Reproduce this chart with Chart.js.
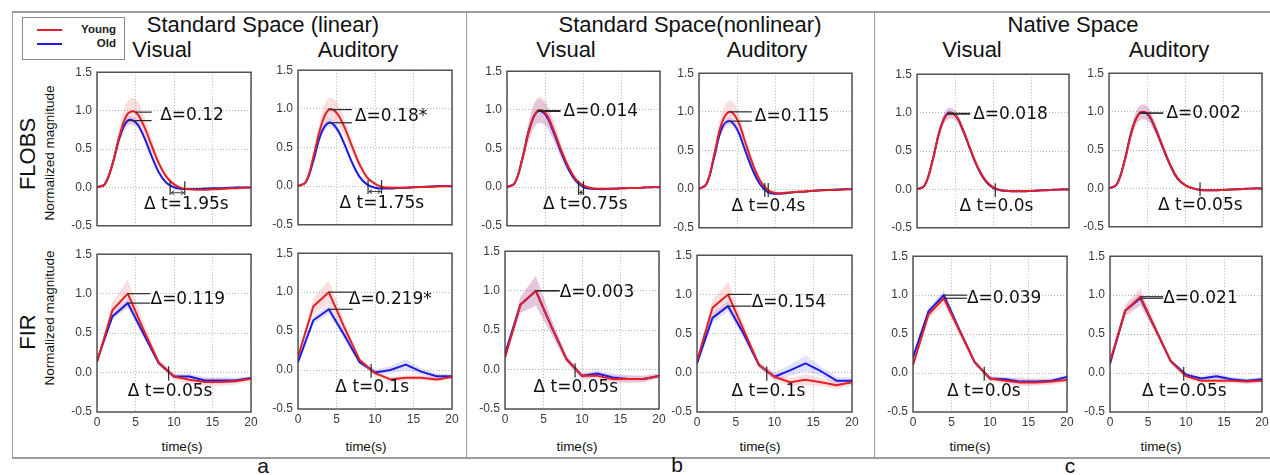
<!DOCTYPE html>
<html><head><meta charset="utf-8">
<script src="https://cdn.jsdelivr.net/npm/chart.js@4"></script>
<style>
html,body{margin:0;padding:0;background:#fff;}
body{width:1270px;height:475px;position:relative;overflow:hidden;font-family:"Liberation Sans",Arial,sans-serif;color:#111;}
canvas{position:absolute;}
.t{position:absolute;white-space:nowrap;line-height:1;transform:translate(-50%,-50%);}
.r{position:absolute;white-space:nowrap;line-height:1;transform:translate(-50%,-50%) rotate(-90deg);}
.l{position:absolute;white-space:nowrap;line-height:1;transform:translate(0,-50%);font-family:"DejaVu Sans",sans-serif;font-size:17px;color:#111;}
</style></head><body>
<script>
// ---------------- DATA ----------------
const T_FLOBS = [0,1,2,3,4,5,6,7,8,9,10,11,12,13,14,15,16,17,18,19,20];
const T_FIR = [0,2,4,6,8,10,12,14,16,18,20];
const X_TICKS = [0,5,10,15,20];
const Y_TICKS = [-0.5,0,0.5,1.0,1.5];

// Standard space (linear) - FLOBS
const linVisFlobsY   = [0,0.04,0.30,0.70,0.96,0.98,0.82,0.57,0.32,0.14,0.04,-0.01,-0.025,-0.03,-0.03,-0.025,-0.02,-0.015,-0.01,-0.005,0];
const linVisFlobsYSd = [0,0.01,0.06,0.13,0.17,0.17,0.14,0.10,0.06,0.04,0.03,0.02,0.01,0.01,0.01,0.01,0.01,0.01,0.01,0.01,0.01];
const linVisFlobsO   = [0,0.04,0.30,0.67,0.87,0.85,0.68,0.43,0.20,0.06,0.00,-0.02,-0.02,-0.02,-0.015,-0.01,-0.01,-0.005,0,0,0];
const linVisFlobsOSd = [0,0.01,0.02,0.04,0.05,0.05,0.04,0.03,0.02,0.01,0.01,0.01,0.01,0.01,0.01,0.01,0.01,0.01,0.01,0.01,0.01];
const linAudFlobsY   = [0,0.05,0.38,0.78,0.99,0.95,0.77,0.52,0.28,0.11,0.03,-0.01,-0.02,-0.02,-0.02,-0.015,-0.01,-0.01,-0.005,0,0];
const linAudFlobsYSd = [0,0.01,0.06,0.12,0.15,0.14,0.11,0.08,0.05,0.03,0.02,0.01,0.01,0.01,0.01,0.01,0.01,0.01,0.01,0.01,0.01];
const linAudFlobsO   = [0,0.05,0.33,0.68,0.82,0.75,0.55,0.31,0.12,0.02,-0.02,-0.03,-0.03,-0.025,-0.02,-0.015,-0.01,-0.005,0,0,0];
const linAudFlobsOSd = [0,0.01,0.02,0.04,0.05,0.05,0.04,0.03,0.02,0.01,0.01,0.01,0.01,0.01,0.01,0.01,0.01,0.01,0.01,0.01,0.01];
// Standard space (nonlinear) - FLOBS
const nonVisFlobsY   = [0,0.05,0.36,0.77,0.99,0.96,0.76,0.50,0.27,0.10,0.02,-0.01,-0.02,-0.02,-0.02,-0.015,-0.01,-0.01,-0.005,0,0];
const nonVisFlobsYSd = [0,0.01,0.07,0.14,0.17,0.16,0.13,0.09,0.05,0.03,0.02,0.01,0.01,0.01,0.01,0.01,0.01,0.01,0.01,0.01,0.01];
const nonVisFlobsO   = [0,0.05,0.37,0.78,0.98,0.94,0.73,0.47,0.24,0.08,0.00,-0.02,-0.025,-0.025,-0.02,-0.015,-0.01,-0.01,-0.005,0,0];
const nonVisFlobsOSd = [0,0.01,0.06,0.12,0.15,0.14,0.11,0.08,0.05,0.03,0.02,0.01,0.01,0.01,0.01,0.01,0.01,0.01,0.01,0.01,0.01];
const nonAudFlobsY   = [0,0.07,0.45,0.86,1.00,0.90,0.62,0.33,0.11,-0.01,-0.05,-0.05,-0.04,-0.035,-0.03,-0.02,-0.015,-0.01,-0.01,-0.005,0];
const nonAudFlobsYSd = [0,0.02,0.08,0.13,0.15,0.13,0.09,0.06,0.04,0.03,0.02,0.01,0.01,0.01,0.01,0.01,0.01,0.01,0.01,0.01,0.01];
const nonAudFlobsO   = [0,0.07,0.42,0.79,0.88,0.77,0.51,0.25,0.06,-0.04,-0.06,-0.055,-0.045,-0.035,-0.03,-0.02,-0.015,-0.01,-0.005,0,0];
const nonAudFlobsOSd = [0,0.01,0.03,0.04,0.05,0.05,0.04,0.03,0.02,0.02,0.02,0.01,0.01,0.01,0.01,0.01,0.01,0.01,0.01,0.01,0.01];
// Native space - FLOBS
const natVisFlobsY   = [0,0.05,0.35,0.76,0.98,0.97,0.79,0.53,0.29,0.12,0.03,-0.01,-0.02,-0.025,-0.025,-0.02,-0.015,-0.01,-0.005,0,0];
const natVisFlobsYSd = [0,0.005,0.03,0.06,0.07,0.07,0.05,0.04,0.03,0.02,0.01,0.01,0.01,0.01,0.01,0.01,0.01,0.01,0.01,0.01,0.01];
const natVisFlobsO   = [0,0.05,0.36,0.77,0.99,0.97,0.78,0.52,0.28,0.11,0.02,-0.01,-0.02,-0.025,-0.025,-0.02,-0.015,-0.01,-0.005,0,0];
const natVisFlobsOSd = [0,0.005,0.03,0.05,0.07,0.06,0.05,0.04,0.03,0.02,0.01,0.01,0.01,0.01,0.01,0.01,0.01,0.01,0.01,0.01,0.01];
const natAudFlobsY   = [0,0.05,0.34,0.75,0.98,0.98,0.80,0.55,0.31,0.13,0.04,0,-0.02,-0.025,-0.025,-0.02,-0.015,-0.01,-0.005,0,0];
const natAudFlobsYSd = [0,0.01,0.04,0.08,0.10,0.10,0.07,0.05,0.03,0.02,0.01,0.01,0.01,0.01,0.01,0.01,0.01,0.01,0.01,0.01,0.01];
const natAudFlobsO   = [0,0.05,0.35,0.76,0.98,0.97,0.79,0.54,0.30,0.12,0.04,0,-0.02,-0.025,-0.025,-0.02,-0.015,-0.01,-0.005,0,0];
const natAudFlobsOSd = [0,0.01,0.04,0.07,0.09,0.09,0.07,0.05,0.03,0.02,0.01,0.01,0.01,0.01,0.01,0.01,0.01,0.01,0.01,0.01,0.01];

// FIR
const linVisFirY   = [0.13,0.79,1.00,0.55,0.13,-0.05,-0.09,-0.12,-0.12,-0.11,-0.08];
const linVisFirYSd = [0.03,0.10,0.18,0.10,0.04,0.04,0.05,0.05,0.05,0.04,0.03];
const linVisFirO   = [0.15,0.71,0.88,0.50,0.12,-0.05,-0.05,-0.10,-0.10,-0.10,-0.07];
const linVisFirOSd = [0.02,0.04,0.05,0.04,0.02,0.03,0.04,0.04,0.04,0.03,0.02];
const linAudFirY   = [0.17,0.82,1.00,0.55,0.13,-0.04,-0.12,-0.10,-0.10,-0.12,-0.09];
const linAudFirYSd = [0.03,0.10,0.15,0.08,0.03,0.03,0.03,0.03,0.03,0.03,0.02];
const linAudFirO   = [0.10,0.64,0.78,0.45,0.10,-0.03,0.00,0.07,-0.02,-0.08,-0.08];
const linAudFirOSd = [0.03,0.05,0.06,0.05,0.03,0.04,0.05,0.07,0.04,0.04,0.03];
const nonVisFirY   = [0.15,0.82,1.00,0.55,0.13,-0.08,-0.08,-0.12,-0.12,-0.12,-0.08];
const nonVisFirYSd = [0.03,0.10,0.20,0.10,0.04,0.04,0.05,0.05,0.05,0.04,0.03];
const nonVisFirO   = [0.20,0.82,0.997,0.55,0.13,-0.08,-0.05,-0.10,-0.12,-0.12,-0.08];
const nonVisFirOSd = [0.03,0.10,0.18,0.10,0.04,0.04,0.04,0.05,0.04,0.04,0.03];
const nonAudFirY   = [0.15,0.83,1.00,0.55,0.10,-0.05,-0.12,-0.09,-0.12,-0.16,-0.12];
const nonAudFirYSd = [0.03,0.10,0.16,0.08,0.04,0.04,0.05,0.07,0.05,0.05,0.04];
const nonAudFirO   = [0.12,0.70,0.85,0.50,0.10,-0.05,0.03,0.12,0.02,-0.10,-0.10];
const nonAudFirOSd = [0.03,0.06,0.07,0.06,0.04,0.05,0.07,0.10,0.06,0.05,0.04];
const natVisFirY   = [0.10,0.75,0.96,0.55,0.14,-0.07,-0.10,-0.12,-0.12,-0.11,-0.09];
const natVisFirYSd = [0.03,0.06,0.08,0.05,0.03,0.03,0.04,0.05,0.04,0.04,0.03];
const natVisFirO   = [0.20,0.79,1.00,0.56,0.14,-0.07,-0.08,-0.11,-0.11,-0.10,-0.05];
const natVisFirOSd = [0.03,0.05,0.06,0.04,0.03,0.03,0.03,0.04,0.04,0.03,0.03];
const natAudFirY   = [0.15,0.80,0.98,0.56,0.15,-0.04,-0.10,-0.10,-0.10,-0.11,-0.10];
const natAudFirYSd = [0.03,0.08,0.12,0.06,0.03,0.03,0.03,0.04,0.03,0.03,0.03];
const natAudFirO   = [0.12,0.80,0.96,0.56,0.15,-0.02,-0.07,-0.04,-0.08,-0.10,-0.08];
const natAudFirOSd = [0.03,0.06,0.08,0.05,0.03,0.03,0.03,0.04,0.03,0.03,0.03];

// annotations (data units)
const annLinVisFlobs = {end:7.1, label:'Δ=0.12',   at:[8.2,0.95], dt:[9.5,11.4], arrow:true, dtLabel:'Δ t=1.95s', dtAt:[6.1,-0.2]};
const annLinAudFlobs = {end:7.0, label:'Δ=0.18*',  at:[7.4,0.92], dt:[9.1,10.85], arrow:true, dtLabel:'Δ t=1.75s', dtAt:[5.4,-0.2]};
const annNonVisFlobs = {end:7.0, label:'Δ=0.014',  at:[7.4,1.0],  dt:[9.35,10.0], arrow:true, dtLabel:'Δ t=0.75s', dtAt:[4.7,-0.2]};
const annNonAudFlobs = {end:6.9, label:'Δ=0.115',  at:[7.3,0.96], dt:[8.6,9.05], arrow:false, dtLabel:'Δ t=0.4s', dtAt:[4.25,-0.21]};
const annNatVisFlobs = {end:7.0, label:'Δ=0.018',  at:[7.4,1.0],  dt:[10.3], arrow:false, dtLabel:'Δ t=0.0s', dtAt:[5.6,-0.2]};
const annNatAudFlobs = {end:7.1, label:'Δ=0.002',  at:[7.5,1.0],  dt:[11.9], arrow:false, dtLabel:'Δ t=0.05s', dtAt:[6.4,-0.2]};
const annLinVisFir   = {end:6.9, label:'Δ=0.119',  at:[6.95,0.95], dt:[9.3], arrow:false, dtLabel:'Δ t=0.05s', dtAt:[4.0,-0.22]};
const annLinAudFir   = {end:7.1, label:'Δ=0.219*', at:[6.6,0.92], dt:[9.5], arrow:false, dtLabel:'Δ t=0.1s', dtAt:[4.85,-0.2]};
const annNonVisFir   = {end:7.1, label:'Δ=0.003',  at:[7.1,1.0],  dt:[9.1], arrow:false, dtLabel:'Δ t=0.05s', dtAt:[3.7,-0.21]};
const annNonAudFir   = {end:7.05,label:'Δ=0.154',  at:[7.05,0.92],dt:[9.0], arrow:false, dtLabel:'Δ t=0.1s', dtAt:[4.45,-0.22]};
const annNatVisFir   = {end:7.0, label:'Δ=0.039',  at:[7.0,0.98], dt:[9.25], arrow:false, dtLabel:'Δ t=0.0s', dtAt:[4.4,-0.22]};
const annNatAudFir   = {end:7.0, label:'Δ=0.021',  at:[7.0,0.98], dt:[9.7], arrow:false, dtLabel:'Δ t=0.05s', dtAt:[4.2,-0.22]};

// ---------------- STYLE / LAYOUT ----------------
const RED = 'rgb(226,32,38)', BLUE = 'rgb(28,28,226)';
const RED_BAND = 'rgba(235,70,70,0.18)', BLUE_BAND = 'rgba(70,70,235,0.16)';

const plots = [
 {rect:[97,70,251,228],  t:T_FLOBS, y:linVisFlobsY, ySd:linVisFlobsYSd, o:linVisFlobsO, oSd:linVisFlobsOSd, smooth:true, xl:false, ann:annLinVisFlobs},
 {rect:[298,68,452,227], t:T_FLOBS, y:linAudFlobsY, ySd:linAudFlobsYSd, o:linAudFlobsO, oSd:linAudFlobsOSd, smooth:true, xl:false, ann:annLinAudFlobs},
 {rect:[507,69,660,228], t:T_FLOBS, y:nonVisFlobsY, ySd:nonVisFlobsYSd, o:nonVisFlobsO, oSd:nonVisFlobsOSd, smooth:true, xl:false, ann:annNonVisFlobs},
 {rect:[699,71,852,230], t:T_FLOBS, y:nonAudFlobsY, ySd:nonAudFlobsYSd, o:nonAudFlobsO, oSd:nonAudFlobsOSd, smooth:true, xl:false, ann:annNonAudFlobs},
 {rect:[917,72,1069,230],t:T_FLOBS, y:natVisFlobsY, ySd:natVisFlobsYSd, o:natVisFlobsO, oSd:natVisFlobsOSd, smooth:true, xl:false, ann:annNatVisFlobs},
 {rect:[1109,71,1262,229],t:T_FLOBS,y:natAudFlobsY, ySd:natAudFlobsYSd, o:natAudFlobsO, oSd:natAudFlobsOSd, smooth:true, xl:false, ann:annNatAudFlobs},
 {rect:[97,252,251,412], t:T_FIR, y:linVisFirY, ySd:linVisFirYSd, o:linVisFirO, oSd:linVisFirOSd, smooth:false, xl:true, ann:annLinVisFir},
 {rect:[298,251,452,409],t:T_FIR, y:linAudFirY, ySd:linAudFirYSd, o:linAudFirO, oSd:linAudFirOSd, smooth:false, xl:true, ann:annLinAudFir},
 {rect:[505,249,659,409],t:T_FIR, y:nonVisFirY, ySd:nonVisFirYSd, o:nonVisFirO, oSd:nonVisFirOSd, smooth:false, xl:true, ann:annNonVisFir},
 {rect:[697,253,852,412],t:T_FIR, y:nonAudFirY, ySd:nonAudFirYSd, o:nonAudFirO, oSd:nonAudFirOSd, smooth:false, xl:true, ann:annNonAudFir},
 {rect:[913,254,1067,412],t:T_FIR,y:natVisFirY, ySd:natVisFirYSd, o:natVisFirO, oSd:natVisFirOSd, smooth:false, xl:true, ann:annNatVisFir},
 {rect:[1110,254,1262,412],t:T_FIR,y:natAudFirY,ySd:natAudFirYSd, o:natAudFirO, oSd:natAudFirOSd, smooth:false, xl:true, ann:annNatAudFir},
];

function div(cls, text, x, y, css){
  const d=document.createElement('div'); d.className=cls; d.textContent=text;
  d.style.left=x+'px'; d.style.top=y+'px';
  if(css) Object.assign(d.style, css);
  document.body.appendChild(d); return d;
}
function box(x,y,w,h,css){
  const d=document.createElement('div'); d.style.position='absolute';
  d.style.left=x+'px'; d.style.top=y+'px'; d.style.width=w+'px'; d.style.height=h+'px';
  Object.assign(d.style, css||{}); document.body.appendChild(d); return d;
}

// panel frames
box(12,11,1258,1.5,{background:'#9c9c9c'});
box(12,457,1258,1.5,{background:'#9c9c9c'});
box(11.5,11,1.5,447,{background:'#9c9c9c'});
box(465.5,11,1.5,447,{background:'#9c9c9c'});
box(873.5,11,1.5,447,{background:'#9c9c9c'});

// legend
box(22,17,101,41,{border:'1px solid #8a8a8a',background:'#fff'});
box(37,29,25,2,{background:RED});
box(37,43,25,2,{background:BLUE});
div('t','Young',0,30,{left:'116px',transform:'translate(-100%,-50%)',fontWeight:'bold',fontSize:'11.5px',color:'#222'});
div('t','Old',0,44,{left:'116px',transform:'translate(-100%,-50%)',fontWeight:'bold',fontSize:'11.5px',color:'#222'});

// titles
const big={fontSize:'22px'};
div('t','Standard Space (linear)',263,25,big);
div('t','Visual',162,50,big); div('t','Auditory',358,50,big);
div('t','Standard Space(nonlinear)',690,25,big);
div('t','Visual',566,50,big); div('t','Auditory',767,50,big);
div('t','Native Space',1073,25,big);
div('t','Visual',972,50,big); div('t','Auditory',1169,50,big);
div('r','FLOBS',28,154,{fontSize:'22px'});
div('r','Normalized magnitude',50,153,{fontSize:'13.5px'});
div('r','FIR',28,332,{fontSize:'22px'});
div('r','Normalized magnitude',50,318,{fontSize:'13.5px'});
[182,366,577,760,970,1161].forEach(x=>div('t','time(s)',x,447,{fontSize:'13.5px'}));
const letter={fontSize:'21px'};
div('t','a',263,465,letter); div('t','b',677,464,letter); div('t','c',1070,465,letter);

function makePlugin(p){
  return {
    id:'frameAnn',
    afterDatasetsDraw(chart){
      const a=p.ann, ctx=chart.ctx;
      const xs=v=>chart.scales.x.getPixelForValue(v), ys=v=>chart.scales.y.getPixelForValue(v);
      ctx.save();
      ctx.strokeStyle='#2a2a2a'; ctx.lineWidth=1.2;
      const line=(x1,y1,x2,y2)=>{ctx.beginPath();ctx.moveTo(x1,y1);ctx.lineTo(x2,y2);ctx.stroke();};
      [p.y,p.o].forEach(v=>{
        const m=Math.max(...v), tm=p.t[v.indexOf(m)];
        line(xs(tm),ys(m),xs(a.end),ys(m));
      });
      a.dt.forEach(t=>line(xs(t),ys(0.08),xs(t),ys(-0.1)));
      if(a.arrow && a.dt.length===2){
        const x1=xs(a.dt[0]), x2=xs(a.dt[1]), y=ys(-0.07);
        ctx.lineWidth=0.9;
        line(x1+1,y,x2-1,y);
        line(x1+1,y,x1+4,y-2); line(x1+1,y,x1+4,y+2);
        line(x2-1,y,x2-4,y-2); line(x2-1,y,x2-4,y+2);
      }
      ctx.restore();
    },
    afterDraw(chart){
      const c=chart.chartArea, ctx=chart.ctx;
      ctx.save(); ctx.strokeStyle='#3a3a3a'; ctx.lineWidth=1.3;
      ctx.strokeRect(c.left, c.top, c.right-c.left, c.bottom-c.top);
      ctx.restore();
    }
  };
}

plots.forEach(p=>{
  const padL=34, padT=10, padR=14, padB=p.xl?25:10;
  const [L,T,R,B]=p.rect;
  const cv=document.createElement('canvas');
  cv.width=R-L+padL+padR; cv.height=B-T+padT+padB;
  cv.style.left=(L-padL)+'px'; cv.style.top=(T-padT)+'px';
  document.body.appendChild(cv);
  const pts=(arr,sd,s)=>p.t.map((t,i)=>({x:t,y:arr[i]+s*(sd?sd[i]:0)}));
  const tension=p.smooth?0.4:0;
  const NONE='rgba(0,0,0,0)';
  const ds=[
    {data:pts(p.y,null,0), borderColor:RED, borderWidth:2, fill:false, order:0},
    {data:pts(p.o,null,0), borderColor:BLUE, borderWidth:2, fill:false, order:1},
    {data:pts(p.y,p.ySd,1), borderColor:NONE, borderWidth:1, backgroundColor:RED_BAND, fill:'+1', order:2},
    {data:pts(p.y,p.ySd,-1), borderColor:NONE, borderWidth:1, fill:false, order:2},
    {data:pts(p.o,p.oSd,1), borderColor:NONE, borderWidth:1, backgroundColor:BLUE_BAND, fill:'+1', order:3},
    {data:pts(p.o,p.oSd,-1), borderColor:NONE, borderWidth:1, fill:false, order:3},
  ].map(d=>Object.assign({pointRadius:0, pointHoverRadius:0, tension, borderJoinStyle:'round'}, d));
  const tickFont={family:'"Liberation Sans", Arial, sans-serif', size:12};
  const grid={color:'#b4b4b4', lineWidth:1, drawTicks:false};
  const border={display:false, dash:[1,2]};
  const chart=new Chart(cv,{
    type:'line',
    data:{datasets:ds},
    options:{
      responsive:false, animation:false, devicePixelRatio:1,
      layout:{padding:{left:0,top:padT,right:padR,bottom:0}},
      plugins:{legend:{display:false}, tooltip:{enabled:false}},
      events:[],
      scales:{
        x:{type:'linear', min:X_TICKS[0], max:X_TICKS[X_TICKS.length-1],
           afterFit:s=>{s.height=padB;},
           afterBuildTicks:s=>{s.ticks=X_TICKS.map(v=>({value:v}));},
           ticks:{display:p.xl, padding:3, color:'#3a3a3a', font:tickFont, maxRotation:0, autoSkip:false, callback:v=>String(v)},
           grid, border},
        y:{type:'linear', min:Y_TICKS[0], max:Y_TICKS[Y_TICKS.length-1],
           afterFit:s=>{s.width=padL;},
           afterBuildTicks:s=>{s.ticks=Y_TICKS.map(v=>({value:v}));},
           ticks:{padding:5, color:'#3a3a3a', font:tickFont, autoSkip:false, callback:v=>(Math.abs(v)<1e-9?0:v).toFixed(1)},
           grid, border}
      }
    },
    plugins:[makePlugin(p)]
  });
  const xs=v=>chart.scales.x.getPixelForValue(v)+L-padL, ys=v=>chart.scales.y.getPixelForValue(v)+T-padT;
  div('l',p.ann.label,xs(p.ann.at[0]),ys(p.ann.at[1]));
  div('l',p.ann.dtLabel,xs(p.ann.dtAt[0]),ys(p.ann.dtAt[1]));
});
</script>
</body></html>
